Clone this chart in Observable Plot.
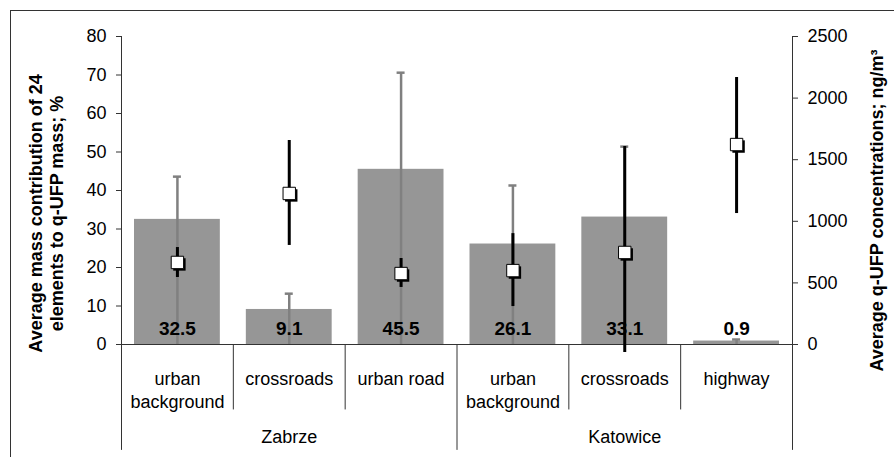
<!DOCTYPE html>
<html>
<head>
<meta charset="utf-8">
<script src="https://cdn.jsdelivr.net/npm/d3@7"></script>
<script src="https://cdn.jsdelivr.net/npm/@observablehq/plot@0.6"></script>
<style>
  html, body { margin: 0; padding: 0; background: #fff; }
  #wrap { position: relative; width: 894px; height: 457px; overflow: hidden; }
  #border { position: absolute; left: 10px; top: 10px; width: 900px; height: 460px;
            border-left: 1px solid #333; border-top: 1px solid #333; }
  #chart { position: absolute; left: 0; top: 0; }
</style>
</head>
<body>
<div id="wrap"><div id="border"></div><div id="chart"></div></div>
<script>
// ---- data ----
const sites = ["urban\nbackground", "crossroads", "urban road", "urban\nbackground", "crossroads", "highway"];
const cities = ["Zabrze", "Zabrze", "Zabrze", "Katowice", "Katowice", "Katowice"];
// average mass contribution of 24 elements (%) and upper error bound
const massPct = [32.5, 9.1, 45.5, 26.1, 33.1, 0.9];
const massPctLow = [0, 0, 0, 0, 0, 0];
const massPctHigh = [43.6, 13.2, 70.6, 41.3, 51.4, 1.3];
// average q-UFP concentrations (ng/m3) with error range
const qufp = [666, 1226, 576, 600, 747, 1623];
const qufpLow = [544, 804, 463, 308, -65, 1063];
const qufpHigh = [787, 1656, 698, 900, 1607, 2167];
// tick labels
const pctTicks = [0, 10, 20, 30, 40, 50, 60, 70, 80];
const qTicks = [0, 500, 1000, 1500, 2000, 2500];

// ---- derived ----
const pctMax = 80, qMax = 2500;
const k = pctMax / qMax; // q-UFP value -> left-axis units
const n = sites.length;
const rows = sites.map((s, i) => ({
  i, c: i + 0.5, site: s, city: cities[i],
  pct: massPct[i], pctLow: massPctLow[i], pctHigh: massPctHigh[i],
  q: qufp[i] * k, qLow: qufpLow[i] * k, qHigh: qufpHigh[i] * k
}));
const bounds = d3.range(n + 1);
const longB = bounds.filter(b => b === 0 || b === n || cities[b] !== cities[b - 1]);
const shortB = bounds.filter(b => !longB.includes(b));
const groups = d3.groups(rows, d => d.city).map(([city, r]) => ({city, c: d3.mean(r, d => d.c)}));

const font = "'Liberation Sans', Arial, Helvetica, sans-serif";
const axisCol = "#333";

const plot = Plot.plot({
  width: 894,
  height: 457,
  marginLeft: 121,
  marginRight: 102,
  marginTop: 36,
  marginBottom: 113,
  style: {fontFamily: font, fontSize: "18px", color: "#000", background: "transparent"},
  x: {type: "linear", domain: [0, n], axis: null},
  y: {domain: [0, pctMax], axis: null},
  marks: [
    // bars
    Plot.rectY(rows, {x1: d => d.i, x2: d => d.i + 1, y: "pct", insetLeft: 13, insetRight: 13, fill: "#969696"}),
    // gray error bars (mass %)
    Plot.ruleX(rows, {x: "c", y1: "pctLow", y2: "pctHigh", stroke: "#808080", strokeWidth: 2.5}),
    Plot.ruleY(rows, {y: "pctHigh", x1: "c", x2: "c", insetLeft: -4, insetRight: -4, stroke: "#808080", strokeWidth: 2.5}),
    // bar value labels
    Plot.text(rows, {x: "c", y: 0, text: d => d.pct.toFixed(1), dy: -16, fontSize: 19, fontWeight: "bold", fill: "#000"}),
    // left axis
    Plot.axisY({anchor: "left", ticks: pctTicks, tickSize: 5, tickPadding: 10, label: null, stroke: axisCol, fontSize: 18}),
    // right axis (q-UFP)
    Plot.axisY({anchor: "right", ticks: qTicks.map(v => v * k), tickFormat: d => String(Math.round(d / k)),
                tickSize: 5, tickPadding: 10, label: null, stroke: axisCol, fontSize: 18}),
    // axis lines
    Plot.ruleX([0, n], {x: d => d, y1: 0, y2: pctMax, stroke: axisCol, strokeWidth: 1}),
    Plot.ruleY([0], {stroke: axisCol, strokeWidth: 1}),
    // category dividers
    Plot.ruleX(shortB, {x: d => d, y1: 0, y2: -17, stroke: axisCol, strokeWidth: 1}),
    Plot.ruleX(longB, {x: d => d, y1: 0, y2: -27.5, stroke: axisCol, strokeWidth: 1}),
    // category labels
    Plot.text(rows, {x: "c", y: 0, text: "site", lineAnchor: "top", dy: 24, lineHeight: 1.28, fontSize: 18, fill: "#000"}),
    Plot.text(groups, {x: "c", y: 0, text: "city", lineAnchor: "middle", dy: 93, fontSize: 18, fill: "#000"}),
    // black q-UFP error bars
    Plot.ruleX(rows, {x: "c", y1: "qLow", y2: "qHigh", stroke: "#000", strokeWidth: 3}),
    // squares with shadow
    Plot.dot(rows, {x: "c", y: "q", symbol: "square", r: 7, fill: "#000", dx: 2, dy: 2}),
    Plot.dot(rows, {x: "c", y: "q", symbol: "square", r: 7, fill: "#fff", stroke: "#000", strokeWidth: 1}),
    // axis titles
    Plot.text(["Average mass contribution of 24\nelements to q-UFP mass; %"], {
      frameAnchor: "left", rotate: -90, dx: -76, dy: 23, lineHeight: 1.17,
      fontSize: 18, fontWeight: "bold", fill: "#000", textAnchor: "middle", lineAnchor: "middle"}),
    Plot.text(["Average q-UFP concentrations; ng/m³"], {
      frameAnchor: "right", rotate: -90, dx: 85, dy: 20,
      fontSize: 18, fontWeight: "bold", fill: "#000", textAnchor: "middle", lineAnchor: "middle"})
  ]
});
document.getElementById("chart").appendChild(plot);
</script>
</body>
</html>
